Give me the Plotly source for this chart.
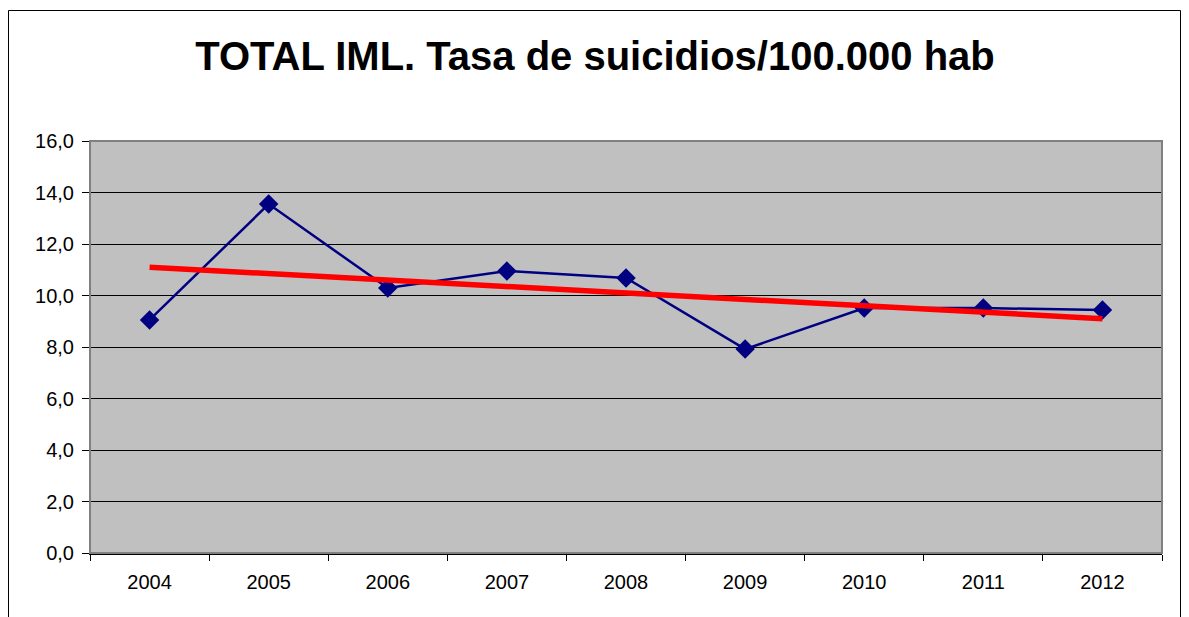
import plotly.graph_objects as go

# data
years = ["2004", "2005", "2006", "2007", "2008", "2009", "2010", "2011", "2012"]
tasa = [9.05, 13.55, 10.29, 10.95, 10.68, 7.92, 9.51, 9.51, 9.44]
trend_years = ["2004", "2012"]
trend_values = [11.1, 9.1]
y_ticks = [0, 2, 4, 6, 8, 10, 12, 14, 16]

# the page body adds an 8px offset, so work in window pixels and subtract it
OFF = 8
W, H = 1189, 617
L, R, T, B = 90 - OFF, W + OFF - 1162, 141 - OFF, H + OFF - 553
pw, ph = W - L - R, H - T - B


def px_x(x):
    return (x - OFF - L) / pw


def px_y(y):
    return (H - B - (y - OFF)) / ph


fig = go.Figure()

fig.add_trace(go.Scatter(
    x=years, y=tasa, mode="lines+markers",
    line=dict(color="#000080", width=2.5),
    marker=dict(symbol="diamond", size=15, color="#000080"),
    showlegend=False,
))

fig.add_trace(go.Scatter(
    x=trend_years, y=trend_values, mode="lines",
    line=dict(color="#FF0000", width=5.5),
    showlegend=False,
))

# plot area border (grey top/right) and outer chart frame
fig.add_shape(type="rect", xref="paper", yref="paper", x0=0, x1=1, y0=0, y1=1,
              line=dict(color="#808080", width=2), layer="above")
fig.add_shape(type="rect", xref="paper", yref="paper",
              x0=px_x(8.5), x1=px_x(1180.5), y0=px_y(10.5), y1=px_y(660),
              line=dict(color="#000000", width=1))

fig.update_layout(
    width=W, height=H,
    margin=dict(l=L, r=R, t=T, b=B),
    paper_bgcolor="white",
    plot_bgcolor="#C0C0C0",
    separators=",.",
    font=dict(family="Liberation Sans, Arial, sans-serif", size=20, color="black"),
    title=dict(
        text="<b>TOTAL IML. Tasa de suicidios/100.000 hab</b>",
        font=dict(size=40, color="black"),
        x=(595 - OFF) / W, xref="container", xanchor="center",
        y=1 - (56 - OFF) / H, yref="container", yanchor="middle",
    ),
    xaxis=dict(
        type="category", categoryorder="array", categoryarray=years,
        range=[-0.5, 8.5], tickson="boundaries",
        ticks="outside", ticklen=6, tickcolor="black", tickwidth=1,
        showline=True, linecolor="black", linewidth=2,
        showgrid=False, zeroline=False,
        ticklabelstandoff=10,
    ),
    yaxis=dict(
        range=[0, 16], tickvals=y_ticks, tickformat=".1f",
        ticks="outside", ticklen=7, tickcolor="black", tickwidth=1,
        showline=True, linecolor="#404040", linewidth=1,
        showgrid=True, gridcolor="black", gridwidth=1,
        zeroline=False, ticklabelstandoff=4,
    ),
)

fig.write_html("out.html")
